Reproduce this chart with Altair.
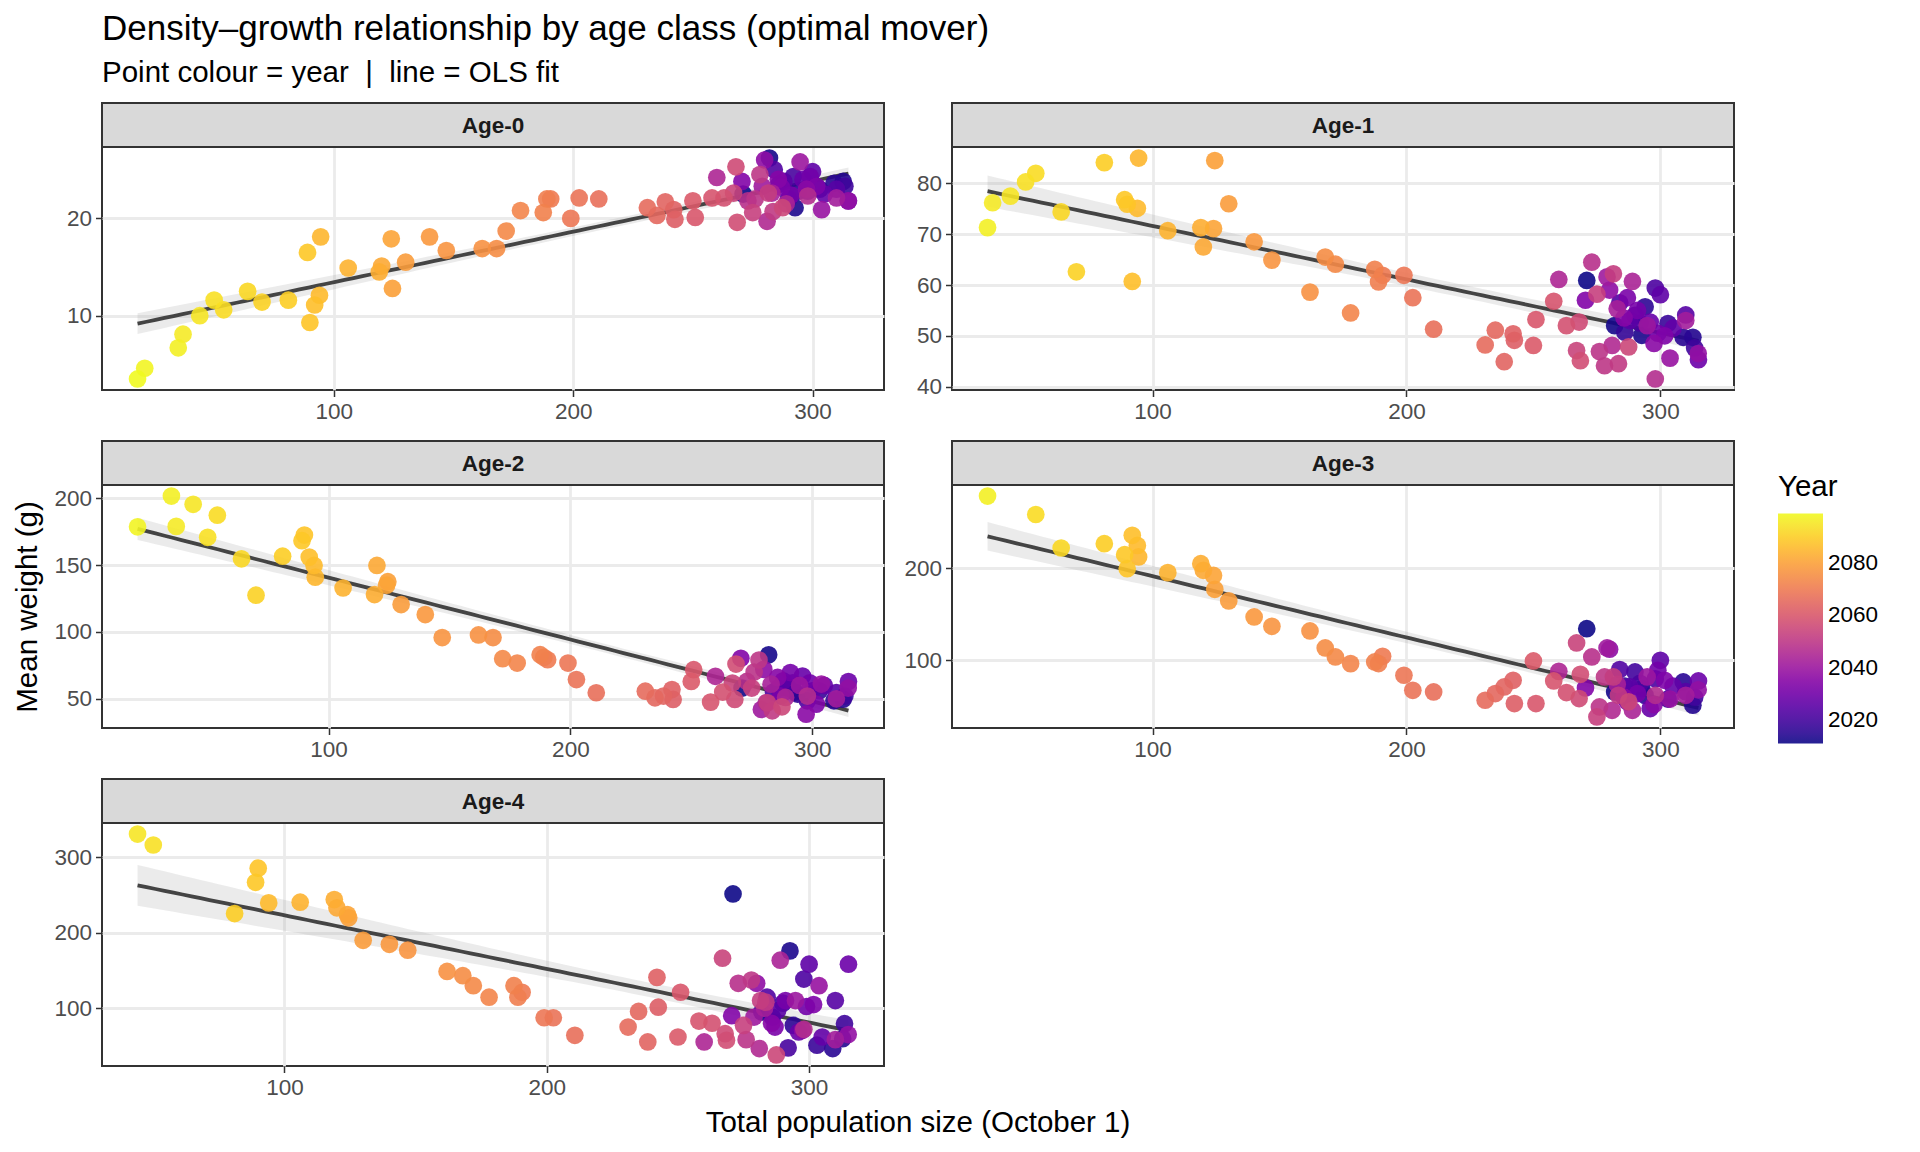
import numpy as np
import pandas as pd
import altair as alt

FONT = "Liberation Sans"

years = list(range(2011, 2100))

# Total population size (October 1) per year, 2011..2099
pop = [271, 282, 292.7, 312.8, 309, 294, 286, 303, 313.5, 290,
       292, 298, 284, 310, 288, 300, 305, 296, 315, 299,
       291, 287, 301.7, 270.5, 285.7, 297.5, 280, 314.9, 303.8, 294.8,
       279, 310, 283, 289, 260, 281, 298, 273, 276, 278,
       283.5, 281.5, 275, 267, 287.5, 268, 268.5, 263,
       258, 251, 250, 242.5, 242, 238.5, 235, 231, 210.7, 202.5,
       199, 190.6, 189, 187.5, 178, 172, 168, 162, 147, 140,
       130, 124.5, 124, 120, 119, 106, 94.5, 94, 92, 90,
       89, 81, 70, 64, 54, 50, 44, 37, 35, 21, 18]

age0 = [22.5, 26.2, 21.1, 23.8, 23.6, 22.8, 23.5, 23.0, 23.3, 22.0,
        24.3, 22.8, 25.0, 23.0, 23.8, 24.8, 22.5, 24.0, 21.8, 24.3,
        22.4, 23.2, 23.3, 23.8, 24.0, 23.0, 26.0, 21.8, 20.9, 25.8,
        23.3, 22.1, 22.6, 21.5, 24.2, 19.7, 22.3, 21.8, 22.0, 24.5,
        20.7, 22.6, 20.6, 22.6, 21.1, 25.3, 19.6, 22.1,
        22.1, 20.1, 21.8, 19.9, 20.9, 21.7, 20.3, 21.1, 22.0, 22.1,
        20.0, 22.0, 22.0, 20.6, 20.8, 18.7, 16.9, 16.9, 16.7, 18.1,
        15.5, 12.8, 17.9, 15.1, 14.5, 14.9, 18.1, 12.1, 11.1, 9.3,
        16.5, 11.6, 11.4, 12.5, 10.6, 11.6, 10.0, 8.1, 6.7, 4.6, 3.5]

age1 = [60.9, 52.0, 50.1, 49.7, 49.7, 55.7, 50.7, 52.4, 47.6, 54.0,
        52.5, 59.4, 56.5, 54.1, 53.0, 58.1, 51.5, 52.7, 45.3, 50.5,
        55.0, 57.5, 50.0, 57.0, 53.5, 48.5, 59.0, 46.5, 45.6, 52.0,
        61.6, 53.0, 55.3, 60.7, 61.1, 48.1, 41.5, 64.5, 46.9, 44.1,
        44.5, 62.2, 58.2, 47.1, 47.8, 52.7, 45.1, 52.0,
        56.8, 53.2, 48.1, 49.1, 50.4, 44.9, 51.1, 48.2, 51.3, 57.5,
        61.9, 61.9, 60.6, 63.1, 54.5, 64.1, 65.5, 58.6, 64.9, 68.5,
        76.0, 84.5, 71.1, 67.5, 71.3, 70.7, 85.0, 75.1, 60.7, 75.9,
        76.8, 84.1, 62.6, 74.4, 82.0, 80.3, 77.5, 76.2, 71.3, None, None]

age2 = [58, 82.9, 55, 49.7, 48.5, 53.5, 58, 56, 52, 58.4,
        62, 48.5, 55, 54.7, 63.4, 56, 60, 67, 62.9, 62,
        69.6, 52, 46, 80.3, 66, 38.5, 72, 58, 61, 60,
        42, 50, 60.9, 51, 66.8, 47, 52, 63, 70, 79,
        41, 47, 58, 61.8, 44, 49.5, 76, 55,
        47.5, 71.8, 63, 49.5, 56.9, 52, 50.7, 55.7, 54.5, 64.4,
        76.7, 79.2, 81, 83, 76.7, 80, 95.8, 97.8, 95.8, 113,
        120.5, 137.6, 135, 149.8, 128, 132.9, 141, 149.8, 156, 172.5,
        168.3, 156.7, 127.5, 154.7, 187.4, 170.8, 195.5, 179, 201.7, 178.7, None]

age3 = [134.3, 65.7, 69.3, 51.3, 76.5, 62, 72, 58, 60, 87.4,
        75, 80, 90, 66, 71.1, 100, 72, 47.7, 77.6, 89.2,
        64, 55, 78.3, 70, 60, 52, 112, 68, 58, 82,
        113.4, 62.1, 74, 45.8, 88, 45.8, 62.1, 103.6, 49.5, 82,
        62.1, 82, 38.6, 118.8, 55, 58.5, 84.8, 65,
        77.6, 53.1, 99.3, 53.1, 78.3, 71.1, 63.9, 56.7, 65.7, 67.5,
        83.8, 104.3, 96.5, 98.2, 96.4, 103.6, 113.4, 131.8, 136.8, 147,
        164.3, 176.9, 192, 197.5, 204.7, 195, 212, 224.5, 235.4, 199.3,
        214.4, 226.4, None, 221.7, 258, None, None, None, 278, None, None]

age4 = [251.3, 95, 175.9, 59.6, 46.5, 77.2, 88, 50.9, 79.4, 106.6,
        47.4, 138.6, 114.5, 110.1, 96.9, 158.3, 61.8, 68.4, 158.3, 102.2,
        110.1, 75, 104.8, 90, 80, 70.6, 132.9, 65, 129.8, 110.1,
        88.2, 58.3, 100, 163.6, 55.3, 46.5, 72, 132.9, 58.3, 137.3,
        107.9, 110.1, 77.2, 166.2, 38, 66.2, 57.5, 80,
        82.9, 121.1, 61.8, 101.3, 140.8, 55.3, 95.6, 75, 64, 87.3,
        87.3, 121.1, 114.5, 129.8, 114.5, 129.8, 143, 148.7, 176.8, 184.6,
        189.9, 219.7, 224.1, 232.9, 243.9, 240.4, None, 239.5, None, 285.5,
        266.7, 225.4, None, None, None, 316.2, 330.7, None, None, None, None]

panel_names = ["Age-0", "Age-1", "Age-2", "Age-3", "Age-4"]
panel_values = [age0, age1, age2, age3, age4]
y_ticks = [[10, 20], [40, 50, 60, 70, 80], [50, 100, 150, 200], [100, 200], [100, 200, 300]]
x_ticks = [100, 200, 300]
year_ticks = [2020, 2040, 2060, 2080]

W, PH, SH = 782, 243, 44
TICK_FS, TITLE_FS = 22.5, 29.5


def t975(df):
    z = 1.959964
    return z + (z ** 3 + z) / (4 * df) + (5 * z ** 5 + 16 * z ** 3 + 3 * z) / (96 * df ** 2)


legend = alt.Legend(
    title="Year", orient="none", legendX=1676, legendY=326, direction="vertical",
    gradientLength=230, gradientThickness=45, gradientStrokeWidth=0,
    values=year_ticks, format="d", labelFontSize=TICK_FS, titleFontSize=TITLE_FS,
    titleFontWeight="normal", titleColor="black", labelColor="black",
    labelFont=FONT, titleFont=FONT, titlePadding=11, labelOffset=5,
)
color_scale = alt.Scale(scheme="plasma", domain=[min(years), max(years)])


def panel(i):
    name = panel_names[i]
    df = pd.DataFrame({"year": years, "pop": pop, "w": panel_values[i]}).dropna()
    x = df["pop"].to_numpy(float)
    y = df["w"].to_numpy(float)
    n = len(x)
    b1, b0 = np.polyfit(x, y, 1)
    resid = y - (b0 + b1 * x)
    s = np.sqrt((resid ** 2).sum() / (n - 2))
    xbar = x.mean()
    sxx = ((x - xbar) ** 2).sum()
    grid = np.linspace(x.min(), x.max(), 80)
    fit = b0 + b1 * grid
    se = s * np.sqrt(1 / n + (grid - xbar) ** 2 / sxx)
    t = t975(n - 2)
    band = pd.DataFrame({"pop": grid, "fit": fit, "lo": fit - t * se, "hi": fit + t * se})

    xr = x.max() - x.min()
    xdom = [x.min() - 0.05 * xr, x.max() + 0.05 * xr]
    ylo = min(y.min(), band["lo"].min())
    yhi = max(y.max(), band["hi"].max())
    yr = yhi - ylo
    ydom = [ylo - 0.05 * yr, yhi + 0.05 * yr]

    xs = alt.Scale(domain=xdom, nice=False, zero=False)
    ys = alt.Scale(domain=ydom, nice=False, zero=False)

    if i == 4:
        xaxis = alt.Axis(values=x_ticks, title="Total population size (October 1)",
                         titleX=815.5, titleY=65, titleAlign="center", titleBaseline="alphabetic")
    else:
        xaxis = alt.Axis(values=x_ticks, title=None)
    if i == 2:
        yaxis = alt.Axis(values=y_ticks[i], title="Mean weight (g)",
                         titleX=-60, titleY=PH / 2, titleAlign="center")
    else:
        yaxis = alt.Axis(values=y_ticks[i], title=None)

    X = lambda f: alt.X(f, type="quantitative", scale=xs, axis=xaxis)
    Y = lambda f: alt.Y(f, type="quantitative", scale=ys, axis=yaxis)

    band_l = alt.Chart(band).mark_area(color="#999999", opacity=0.2, clip=True).encode(
        x=X("pop"), y=Y("lo"), y2="hi:Q")
    line_l = alt.Chart(band).mark_line(color="#444444", strokeWidth=3.8, clip=True).encode(
        x=X("pop"), y=Y("fit"))
    pts = alt.Chart(df).mark_circle(size=314, opacity=0.9, clip=True).encode(
        x=X("pop"), y=Y("w"),
        color=alt.Color("year:Q", scale=color_scale, legend=legend))
    sdf = pd.DataFrame({"panel": [name]})
    strip = alt.Chart(sdf).mark_rect(fill="#d9d9d9", stroke="#333333", strokeWidth=2).encode(
        x=alt.value(0), x2=alt.value(W), y=alt.value(-SH), y2=alt.value(0))
    label = alt.Chart(sdf).mark_text(font=FONT, fontSize=TICK_FS, fontWeight="bold", color="#1a1a1a",
                                     baseline="middle", align="center").encode(
        x=alt.value(W / 2), y=alt.value(-SH / 2 + 1), text="panel:N")
    return alt.layer(band_l, line_l, pts, strip, label).properties(width=W, height=PH)


chart = alt.concat(
    *[panel(i) for i in range(5)], columns=2,
    spacing={"row": 51 + SH, "column": 68}, bounds="flush",
).resolve_scale(x="independent", y="independent", color="shared").properties(
    title=alt.TitleParams(
        text="Density\u2013growth relationship by age class (optimal mover)",
        subtitle="Point colour = year\u00a0\u00a0|\u00a0\u00a0line = OLS fit",
        anchor="start", frame="group", font=FONT, subtitleFont=FONT,
        fontSize=35, subtitleFontSize=TITLE_FS, fontWeight="normal",
        color="black", subtitleColor="black", offset=14, subtitlePadding=12,
    ),
    padding={"left": 2, "top": 3, "right": 5, "bottom": 5},
    background="white",
).configure_view(stroke="#333333", strokeWidth=2).configure_axis(
    grid=True, gridColor="#ebebeb", gridWidth=2.8, domain=False,
    tickColor="#333333", tickSize=6.5, tickWidth=1.5,
    labelColor="#4d4d4d", labelFontSize=TICK_FS, labelFont=FONT, labelPadding=4,
    titleFont=FONT, titleFontSize=TITLE_FS, titleFontWeight="normal", titleColor="black",
)

chart.save("out.html", embed_options={"renderer": "svg", "actions": False})
